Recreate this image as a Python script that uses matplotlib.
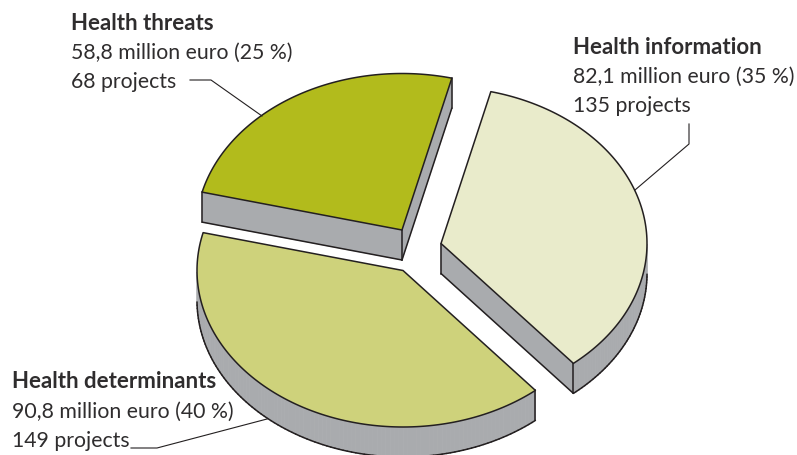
import numpy as np
import matplotlib
matplotlib.use("Agg")
import matplotlib.pyplot as plt

names = ["Health threats", "Health determinants", "Health information"]
shares = [25, 40, 35]
millions = ["58,8", "90,8", "82,1"]
projects = [68, 149, 135]
colors = ["#b2bb1c", "#ced27b", "#e9ebcb"]

START_ANGLE = 76
RX, RY = 206, 156.5
DEPTH = 30
SIDE = "#a9abae"
LINE = "#231f20"
TEXT = "#2f2d2e"
FS = 15.3
FS_BOLD = 16

# wedge apex in pixels, label corner, leader line
centers = [(402, 230), (403, 270.5), (441, 243.5)]
label_pos = [(71, 29.5), (12, 388.5), (573, 53.5)]
leaders = [
    [(190, 80), (211, 80), (262, 116)],
    [(131, 448), (157, 448), (267, 419)],
    [(689, 124), (689, 144), (635, 190)],
]

plt.rcParams["font.family"] = ["Lato", "DejaVu Sans"]

fig = plt.figure(figsize=(7.97, 4.55), dpi=100)
ax = fig.add_axes([0, 0, 1, 1])
ax.set_xlim(0, 797)
ax.set_ylim(455, 0)
ax.axis("off")


def draw_wedge(center, t0, t1, color):
    cx, cy = center
    t = np.radians(np.linspace(t0, t1, 120))
    xs = cx + RX * np.cos(t)
    ys = cy - RY * np.sin(t)
    px = np.concatenate([[cx], xs])
    py = np.concatenate([[cy], ys])
    n = len(px)
    visible = []
    for i in range(n):
        j = (i + 1) % n
        # polygon runs counterclockwise on screen, so rightward edges face down
        visible.append(px[j] - px[i] > 1e-9)
    for i in range(n):
        if visible[i]:
            j = (i + 1) % n
            ax.fill(
                [px[i], px[j], px[j], px[i]],
                [py[i], py[j], py[j] + DEPTH, py[i] + DEPTH],
                facecolor=SIDE, edgecolor=SIDE, lw=0.5, zorder=2,
            )
            ax.plot([px[i], px[j]], [py[i] + DEPTH, py[j] + DEPTH],
                    color=LINE, lw=1.1, zorder=3, solid_capstyle="round")
    # verticals at the sharp corners only
    for k in (0, 1, n - 1):
        if visible[k] or visible[k - 1]:
            ax.plot([px[k], px[k]], [py[k], py[k] + DEPTH], color=LINE, lw=1.1, zorder=3)
    ax.fill(px, py, facecolor=color, edgecolor=LINE, lw=1.1, zorder=4, joinstyle="round")


angle = START_ANGLE
for i in range(len(names)):
    span = shares[i] * 3.6
    draw_wedge(centers[i], angle, angle + span, colors[i])
    angle += span

for i in range(len(names)):
    x, y = label_pos[i]
    ax.text(x, y, names[i], fontsize=FS_BOLD, fontweight="bold", color=TEXT, va="baseline")
    ax.text(x, y + 29.5, f"{millions[i]} million euro ({shares[i]} %)", fontsize=FS,
            color=TEXT, va="baseline")
    ax.text(x, y + 58.5, f"{projects[i]} projects", fontsize=FS, color=TEXT, va="baseline")
    lx, ly = zip(*leaders[i])
    ax.plot(lx, ly, color=LINE, lw=0.8, zorder=5)

fig.savefig("out.png", dpi=100)
